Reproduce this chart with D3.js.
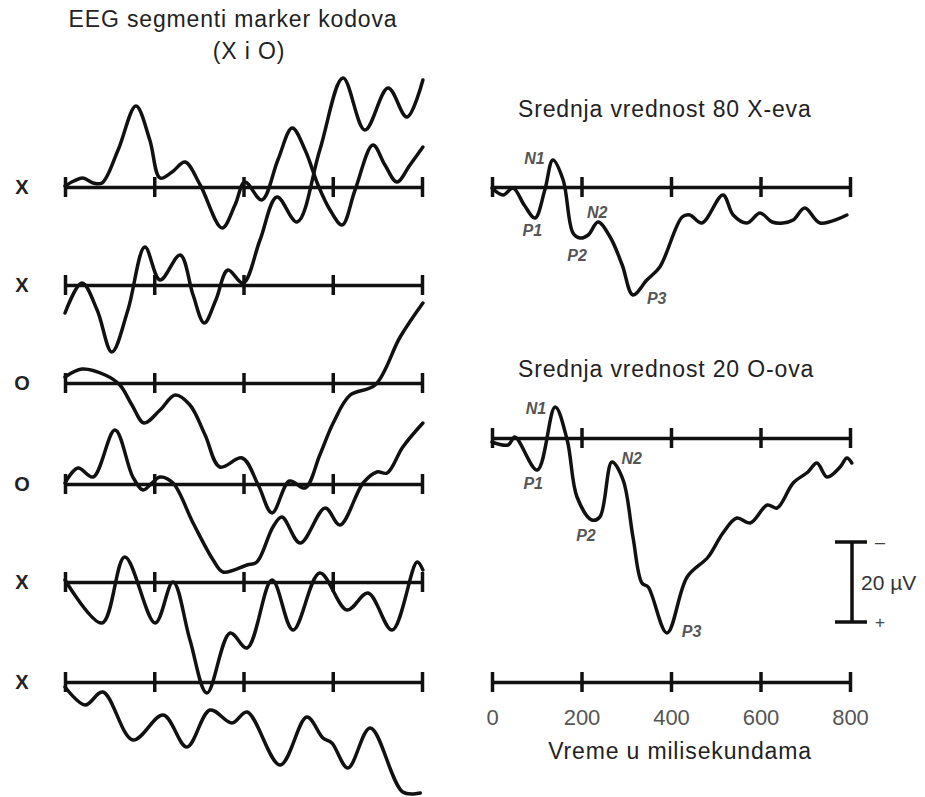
<!DOCTYPE html>
<html>
<head>
<meta charset="utf-8">
<script src="https://cdn.jsdelivr.net/npm/d3@7"></script>
<style>
  body { margin: 0; background: #fff; }
  svg text { font-family: "Liberation Sans", Arial, sans-serif; }
</style>
</head>
<body>
<div id="chart"></div>
<script>
// Chart size
var svgWidth = 925;
var svgHeight = 797;

// Time ticks (ms)
var timeTicks = [0, 200, 400, 600, 800];

// Single EEG segments (time ms, value µV, negative up)
var rowLabels = ["X", "X", "O", "O", "X", "X"];
var seg1 = [[0,-0.25],[20,-1.5],[40,-2.25],[63,-1],[83,-1],[119,-9.25],[159,-20.25],[190,-11.75],[213,-2.25],[240,-3.75],[269,-6.25],[303,-0.5],[352,10.25],[381,4.5],[403,-1.25],[441,3.25],[477,-6.75],[509,-14.75],[538,-9.25],[567,-0.5],[594,5.75],[621,9.5],[650,0.75],[690,-10.5],[717,-5.5],[744,-1.25],[773,-5.5],[802,-10]];
var seg2 = [[0,7],[38,-0.5],[72,6.25],[105,16.75],[141,6.25],[179,-9.5],[213,-1.25],[258,-7.5],[287,2.5],[312,9.5],[338,3.75],[365,-3.75],[399,-0.5],[437,-11.25],[475,-22],[520,-15.75],[571,-33.75],[623,-51.75],[672,-38.75],[724,-49.25],[766,-42],[802,-51.25]];
var seg3 = [[0,-1.5],[38,-3.5],[90,-2],[123,0.5],[150,5.5],[177,10],[213,6.75],[247,3],[280,5.5],[314,13],[347,21],[397,18.75],[433,25.5],[464,32.5],[503,24.5],[538,26.25],[571,18],[601,10],[639,3],[695,0.5],[751,-11.5],[802,-20]];
var seg4 = [[0,-0.25],[29,-4],[63,-1.75],[112,-13.5],[152,-1.75],[175,1.5],[195,-0.25],[213,-1.75],[242,-0.25],[287,9.75],[332,19],[354,22],[408,20.25],[430,19.5],[466,10.75],[486,8.25],[527,14.75],[583,6],[616,10.25],[668,-0.25],[699,-3],[722,-2.75],[757,-9.25],[802,-15.25]];
var seg5 = [[0,-0.5],[83,10.25],[134,-6.25],[202,10.25],[242,0],[280,14.5],[318,27.75],[370,12.75],[408,16.5],[464,-0.5],[511,12],[571,-2.25],[632,7],[679,2.75],[733,12],[789,-5],[802,-3]];
var seg6 = [[0,1.25],[45,5.75],[85,2.5],[152,14.5],[220,8.25],[273,16.25],[325,7],[374,10.25],[408,7.5],[482,20.75],[542,8.75],[578,14],[598,15.25],[634,21.5],[684,11.5],[757,27.5],[796,27.75]];
var segments = [seg1, seg2, seg3, seg4, seg5, seg6];

// Averaged ERPs
var avgX = [[0,0.25],[25,2],[47,0.25],[72,4.5],[96,7.75],[118,0.75],[136,-6.75],[159,-1.75],[181,11.5],[197,12.75],[215,12],[237,8.75],[264,12.5],[291,19.5],[315,27],[346,23.25],[375,20],[425,7.5],[442,7],[469,9],[516,2],[539,7],[570,9],[599,6.5],[626,8.75],[650,9],[673,8.25],[699,5.25],[733,9],[793,7]];
var avgO = [[0,1],[36,1.75],[51,-0.25],[101,8],[141,-7.75],[168,0.5],[190,14.75],[223,20.5],[241,19.75],[268,6],[293,10.5],[315,24.75],[335,36.25],[349,37.25],[391,48.75],[436,34.75],[483,29.75],[516,23.75],[547,20],[577,21.25],[615,16.75],[637,17.5],[673,11.25],[706,8.5],[726,6.25],[749,9.75],[778,7.25],[793,5],[804,6.25]];

// Component labels [name, time ms, value µV]
var peaksX = [["N1",95,-7.3],["P1",90,10.7],["P2",190,17],["N2",235,6.2],["P3",368,27.7]];
var peaksO = [["N1",98,-7.5],["P1",92,11.2],["P2",210,24.2],["N2",312,5],["P3",446,48.2]];

var scaleBarValue = 20;

var svg = d3.select("#chart").append("svg")
    .attr("width", svgWidth)
    .attr("height", svgHeight);

var ink = "#111";
var pxPerUV = 4;

// x scales
var xLeft = d3.scaleLinear().domain([0, 800]).range([65, 422]);
var xRight = d3.scaleLinear().domain([0, 800]).range([492, 850]);

function yFor(axisY) {
    return d3.scaleLinear().domain([0, 10]).range([axisY, axisY + 10 * pxPerUV]);
}

// Axis line with ticks crossing both sides
function drawAxis(xScale, axisY, showLabels) {
    var axis = d3.axisBottom(xScale)
        .tickValues(timeTicks)
        .tickSizeOuter(0)
        .tickSizeInner(10)
        .tickPadding(17);
    if (!showLabels) axis.tickFormat("");
    var g = svg.append("g")
        .attr("transform", `translate(0, ${axisY})`)
        .call(axis);
    g.select(".domain").attr("stroke", ink).attr("stroke-width", 3.5);
    g.selectAll(".tick line")
        .attr("y1", -10).attr("y2", 10)
        .attr("stroke", ink).attr("stroke-width", 3.5);
    g.selectAll(".tick text")
        .attr("fill", "#555")
        .style("font-size", "22px")
        .style("font-family", "Liberation Sans, Arial, sans-serif");
    return g;
}

function drawTrace(data, xScale, yScale) {
    var line = d3.line()
        .x(d => xScale(d[0]))
        .y(d => yScale(d[1]))
        .curve(d3.curveCatmullRom.alpha(0.5));
    svg.append("path")
        .datum(data)
        .attr("d", line)
        .attr("fill", "none")
        .attr("stroke", ink)
        .attr("stroke-width", 3.5)
        .attr("stroke-linejoin", "round")
        .attr("stroke-linecap", "round");
}

// Left panel: single segments
var leftAxisY = [187, 285, 383, 484, 582, 682];
segments.forEach(function(seg, i) {
    drawAxis(xLeft, leftAxisY[i], false);
    svg.append("text")
        .attr("x", 22).attr("y", leftAxisY[i] + 7)
        .attr("text-anchor", "middle")
        .attr("fill", "#222")
        .style("font-size", "20px")
        .style("font-weight", "bold")
        .text(rowLabels[i]);
});
segments.forEach(function(seg, i) {
    drawTrace(seg, xLeft, yFor(leftAxisY[i]));
});

// Right panel: averages
var topY = 187, midY = 438, botY = 682;
drawAxis(xRight, topY, false);
drawAxis(xRight, midY, false);
drawAxis(xRight, botY, true);
var yTop = yFor(topY), yMid = yFor(midY);
drawTrace(avgX, xRight, yTop);
drawTrace(avgO, xRight, yMid);

function peakLabels(list, yScale) {
    svg.selectAll(null)
        .data(list)
        .enter().append("text")
        .attr("x", d => xRight(d[1]))
        .attr("y", d => yScale(d[2]) + 6)
        .attr("text-anchor", "middle")
        .attr("fill", "#555")
        .style("font-size", "16px")
        .style("font-style", "italic")
        .style("font-weight", "bold")
        .text(d => d[0]);
}
peakLabels(peaksX, yTop);
peakLabels(peaksO, yMid);

// Titles
function title(txt, x, y, anchor) {
    svg.append("text")
        .attr("x", x).attr("y", y)
        .attr("text-anchor", anchor)
        .attr("fill", "#222")
        .style("font-size", "23px")
        .style("letter-spacing", "0.85px")
        .text(txt);
}
title("EEG segmenti marker kodova", 233, 27, "middle");
title("(X i O)", 249, 59, "middle");
title("Srednja vrednost 80 X-eva", 518, 117, "start");
title("Srednja vrednost 20 O-ova", 518, 377, "start");
title("Vreme u milisekundama", 680, 759, "middle");

// Scale bar
var barX = 852;
var barTop = 542;
var barBottom = barTop + (yMid(scaleBarValue) - yMid(0));
var bar = svg.append("g");
bar.append("line").attr("x1", barX).attr("x2", barX).attr("y1", barTop).attr("y2", barBottom)
    .attr("stroke", ink).attr("stroke-width", 3.5);
[barTop, barBottom].forEach(function(y) {
    bar.append("line").attr("x1", barX - 17).attr("x2", barX + 15).attr("y1", y).attr("y2", y)
        .attr("stroke", ink).attr("stroke-width", 3.5);
});
bar.append("text").attr("x", 880).attr("y", barTop + 6).attr("text-anchor", "middle")
    .attr("fill", "#444").style("font-size", "18px").text("\u2013");
bar.append("text").attr("x", 880).attr("y", barBottom + 6).attr("text-anchor", "middle")
    .attr("fill", "#444").style("font-size", "17px").text("+");
bar.append("text").attr("x", 861).attr("y", (barTop + barBottom) / 2 + 8)
    .attr("fill", "#333").style("font-size", "21px").text("20 \u00b5V");
</script>
</body>
</html>
